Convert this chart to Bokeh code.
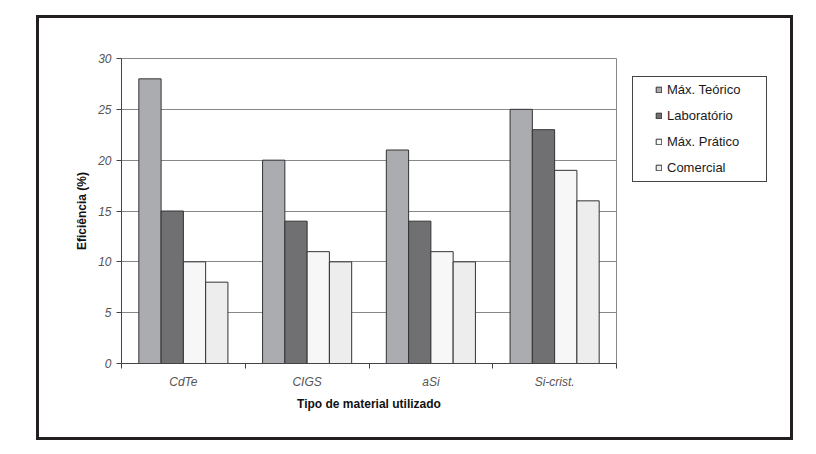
from bokeh.plotting import figure
from bokeh.models import (ColumnDataSource, FixedTicker, Legend, LegendItem,
                          InlineStyleSheet)
from bokeh.transform import dodge
from bokeh.embed import file_html
from bokeh.resources import INLINE

categories = ["CdTe", "CIGS", "aSi", "Si-crist."]
series_names = ["Máx. Teórico", "Laboratório", "Máx. Prático", "Comercial"]
max_teorico = [28, 20, 21, 25]
laboratorio = [15, 14, 14, 23]
max_pratico = [10, 11, 11, 19]
comercial = [8, 10, 10, 16]
y_ticks = [0, 5, 10, 15, 20, 25, 30]

series_values = [max_teorico, laboratorio, max_pratico, comercial]
colors = ["#ABACB0", "#707073", "#F7F7F7", "#EDEDED"]
offsets = [-0.27, -0.09, 0.09, 0.27]

xc = [i + 0.5 for i in range(len(categories))]
data = {"x": xc}
for i, vals in enumerate(series_values):
    data[f"s{i}"] = vals
source = ColumnDataSource(data)

FONT = "Liberation Sans"

p = figure(frame_width=495, frame_height=305, output_backend="svg", toolbar_location=None,
           x_range=(0, len(categories)), y_range=(0, 30),
           min_border_left=121, min_border_right=200,
           min_border_top=58, min_border_bottom=91,
           background_fill_color="white", border_fill_color="white")

renderers = []
for i in range(4):
    r = p.vbar(x=dodge("x", offsets[i]), top=f"s{i}", width=0.18, source=source,
               fill_color=colors[i], line_color="#333333", line_width=1)
    renderers.append(r)

# axes
p.xaxis.ticker = FixedTicker(ticks=xc, minor_ticks=list(range(len(categories) + 1)))
p.xaxis.major_label_overrides = {x: c for x, c in zip(xc, categories)}
p.xaxis.major_tick_out = 0
p.xaxis.major_tick_in = 0
p.xaxis.minor_tick_out = 5
p.xaxis.minor_tick_in = 0
p.xaxis.minor_tick_line_color = "#444444"
p.xaxis.axis_label = "Tipo de material utilizado"

p.yaxis.ticker = FixedTicker(ticks=y_ticks)
p.yaxis.major_tick_out = 5
p.yaxis.major_tick_in = 0
p.yaxis.minor_tick_out = 0
p.yaxis.minor_tick_in = 0
p.yaxis.axis_label = "Eficiência (%)"

for ax in (p.xaxis[0], p.yaxis[0]):
    ax.axis_line_color = "#444444"
    ax.major_tick_line_color = "#444444"
    ax.major_label_text_font = FONT
    ax.major_label_text_font_style = "italic"
    ax.major_label_text_font_size = "12px"
    ax.major_label_text_color = "#555555"
    ax.axis_label_text_font = FONT
    ax.axis_label_text_font_style = "bold"
    ax.axis_label_text_font_size = "12px"
    ax.axis_label_text_color = "#111111"

p.xaxis.major_label_standoff = 6
p.xaxis.axis_label_standoff = 5
p.yaxis.major_label_standoff = 5
p.yaxis.axis_label_standoff = 6

p.xgrid.grid_line_color = None
p.ygrid.grid_line_color = "#888888"
p.ygrid.grid_line_width = 1
p.outline_line_color = "#888888"
p.outline_line_width = 1

legend = Legend(items=[LegendItem(label=n, renderers=[r]) for n, r in zip(series_names, renderers)],
                location=(39, 188))
legend.label_text_font = FONT
legend.label_text_font_size = "13px"
legend.label_text_color = "#1A1A1A"
legend.glyph_width = 7
legend.glyph_height = 7
legend.label_standoff = 5
legend.label_height = 16
legend.spacing = 10
legend.padding = 0
legend.margin = 0
legend.border_line_color = None
legend.background_fill_alpha = 0
p.add_layout(legend, "right")

p.stylesheets = [InlineStyleSheet(css="""
:host { position: relative; }
:host::after {
  content: "";
  position: absolute;
  left: 36px; top: 15px; width: 757px; height: 425px;
  border: 3px solid #231F20;
  box-sizing: border-box;
  pointer-events: none;
  z-index: 10;
}
:host::before {
  content: "";
  position: absolute;
  left: 632px; top: 76px; width: 135px; height: 106px;
  border: 1px solid #444444;
  box-sizing: border-box;
  pointer-events: none;
  z-index: 10;
}
""")]

open("out.html", "w").write(file_html(p, INLINE))
